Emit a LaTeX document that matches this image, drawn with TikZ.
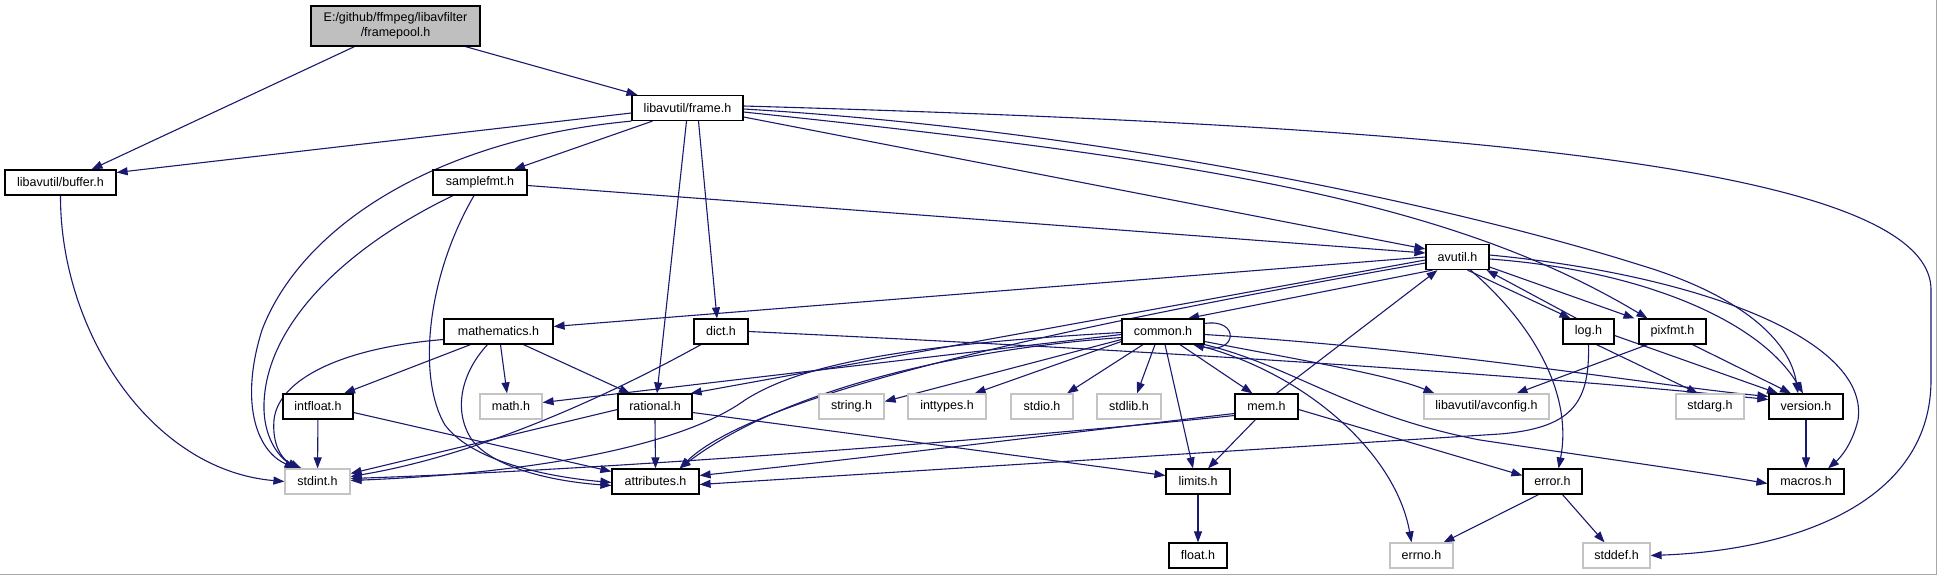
\documentclass[tikz,border=0pt]{standalone}
\usepackage{fontspec}
\setmainfont{Liberation Sans}
\usetikzlibrary{arrows.meta}
\definecolor{edgecol}{HTML}{191970}
\definecolor{rootfill}{HTML}{BFBFBF}
\definecolor{sysline}{HTML}{C4C4C4}
\definecolor{framecol}{HTML}{A8A8A8}
\pgfdeclarelayer{bg}
\pgfsetlayers{bg,main}
\begin{document}
\begin{tikzpicture}[x=1pt,y=-1pt,
  box/.style={draw=black, fill=white, line width=1.2pt, minimum height=25pt, inner sep=0pt, font=\fontsize{12.5}{15}\selectfont},
  sys/.style={box, draw=sysline},
  root/.style={box, fill=rootfill, align=center, minimum height=40pt},
  edg/.style={draw=edgecol, line width=1.1pt, -{Triangle[length=11pt,width=8pt]}}]
\useasboundingbox (0,0) rectangle (1937,575);

% nodes
\node[root, minimum width=169pt] (framepool) at (395.5,26) {E:/github/ffmpeg/libavfilter\\/framepool.h};
\node[box, minimum width=111pt] (frame) at (687.5,108) {libavutil/frame.h};
\node[box, minimum width=111pt] (buffer) at (60.5,182.5) {libavutil/buffer.h};
\node[box, minimum width=94pt] (samplefmt) at (480,182.5) {samplefmt.h};
\node[box, minimum width=63pt] (avutil) at (1457.5,257) {avutil.h};
\node[box, minimum width=109pt] (mathematics) at (498.5,331.5) {mathematics.h};
\node[box, minimum width=54pt] (dict) at (721,331.5) {dict.h};
\node[box, minimum width=82pt] (common) at (1163,331.5) {common.h};
\node[box, minimum width=51pt] (log) at (1588.5,331.5) {log.h};
\node[box, minimum width=67pt] (pixfmt) at (1672.5,331.5) {pixfmt.h};
\node[box, minimum width=70pt] (intfloat) at (318,406.5) {intfloat.h};
\node[sys, minimum width=62pt] (mathh) at (511,406.5) {math.h};
\node[box, minimum width=74pt] (rational) at (655,406.5) {rational.h};
\node[sys, minimum width=65pt] (stringh) at (851.5,406.5) {string.h};
\node[sys, minimum width=78pt] (inttypes) at (947,406.5) {inttypes.h};
\node[sys, minimum width=62pt] (stdio) at (1042,406.5) {stdio.h};
\node[sys, minimum width=64pt] (stdlib) at (1129,406.5) {stdlib.h};
\node[box, minimum width=63pt] (mem) at (1266.5,406.5) {mem.h};
\node[sys, minimum width=125pt] (avconfig) at (1486.5,406.5) {libavutil/avconfig.h};
\node[sys, minimum width=68pt] (stdarg) at (1710,406.5) {stdarg.h};
\node[box, minimum width=74pt] (version) at (1806,406.5) {version.h};
\node[sys, minimum width=65pt] (stdint) at (317.5,481.5) {stdint.h};
\node[box, minimum width=87pt] (attributes) at (655.5,481.5) {attributes.h};
\node[box, minimum width=64pt] (limits) at (1198,481.5) {limits.h};
\node[box, minimum width=59pt] (errorh) at (1552.5,481.5) {error.h};
\node[box, minimum width=76pt] (macros) at (1806,481.5) {macros.h};
\node[box, minimum width=58pt] (floath) at (1198,555.5) {float.h};
\node[sys, minimum width=63pt] (errno) at (1421.5,555.5) {errno.h};
\node[sys, minimum width=67pt] (stddef) at (1616.5,555.5) {stddef.h};

\begin{pgfonlayer}{bg}
\fill[white] (0,0) rectangle (1937,575);
\draw[framecol, line width=1.4pt] (0,574.3) -- (1936.3,574.3) -- (1936.3,0);

% framepool
\draw[edg] ([xshift=-41pt]framepool.south) -- ([xshift=31pt]buffer.north);
\draw[edg] ([xshift=70pt]framepool.south) -- ([xshift=-50pt]frame.north);
% frame
\draw[edg] ([yshift=-5pt]frame.west) -- ([yshift=10pt]buffer.east);
\draw[edg] (frame.south west) .. controls (430,140) and (300,230) .. (262,330) .. controls (240,400) and (255,450) .. ([xshift=-22pt]stdint.north);
\draw[edg] ([xshift=-35pt]frame.south) -- ([xshift=34pt]samplefmt.north);
\draw[edg] ([xshift=-1pt]frame.south) -- ([xshift=2pt]rational.north);
\draw[edg] ([xshift=11pt]frame.south) -- ([xshift=-4pt]dict.north);
\draw[edg] ([yshift=-9pt]frame.east) -- ([yshift=8pt]avutil.west);
\draw[edg] ([yshift=-4pt]frame.east) .. controls (1200,160) and (1450,200) .. ([xshift=-25pt]pixfmt.north);
\draw[edg] ([yshift=-1pt]frame.east) .. controls (1100,130) and (1450,205) .. (1640,265) .. controls (1740,295) and (1790,340) .. ([xshift=-8pt]version.north);
\draw[edg] ([yshift=2pt]frame.east) .. controls (1400,125) and (1931,160) .. (1931,290) -- (1931,380) .. controls (1931,500) and (1800,550) .. (stddef.east);
% buffer
\draw[edg] (buffer.south) .. controls (60,330) and (150,470) .. (stdint.west);
% samplefmt
\draw[edg] ([yshift=-3pt]samplefmt.east) -- ([yshift=4pt]avutil.west);
\draw[edg] ([xshift=-27pt]samplefmt.south) .. controls (340,250) and (262,330) .. (264,410) .. controls (265,440) and (280,458) .. ([xshift=-19pt]stdint.north);
\draw[edg] ([xshift=-6pt]samplefmt.south) .. controls (425,280) and (418,380) .. (445,425) .. controls (475,465) and (560,478) .. ([yshift=-1pt]attributes.west);
% mathematics
\draw[edg] ([yshift=-8pt]mathematics.west) .. controls (340,348) and (278,380) .. (274,420) .. controls (272,445) and (282,460) .. ([xshift=-16pt]stdint.north);
\draw[edg] ([xshift=-28pt]mathematics.south) -- ([xshift=26pt]intfloat.north);
\draw[edg] ([xshift=-11pt]mathematics.south) .. controls (462,372) and (452,410) .. (472,440) .. controls (495,470) and (560,482) .. ([yshift=-4pt]attributes.west);
\draw[edg] ([xshift=2pt]mathematics.south) -- ([xshift=-4pt]mathh.north);
\draw[edg] ([xshift=25pt]mathematics.south) -- ([xshift=-25pt]rational.north);
% dict
\draw[edg] ([xshift=-20pt]dict.south) .. controls (610,395) and (480,455) .. ([yshift=5pt]stdint.east);
\draw[edg] (dict.east) .. controls (1100,348) and (1500,372) .. ([yshift=7pt]version.west);
% avutil
\draw[edg] (avutil.west) -- ([yshift=5pt]mathematics.east);
\draw[edg] ([yshift=-3pt]avutil.west) -- ([xshift=-2pt]rational.north east);
\draw[edg] ([yshift=-6pt]avutil.west) .. controls (1100,320) and (760,390) .. ([xshift=-20pt]attributes.north east);
\draw[edg] ([xshift=-25pt]avutil.south) -- ([xshift=25pt]common.north);
\draw[edg] ([xshift=10pt]avutil.south) -- ([xshift=-18pt]log.north);
\draw[edg] ([yshift=-10pt]avutil.east) -- ([xshift=-38pt]pixfmt.north);
\draw[edg] ([xshift=13pt]avutil.south) .. controls (1540,330) and (1572,400) .. ([xshift=6pt]errorh.north);
\draw[edg] ([yshift=-2pt]avutil.east) .. controls (1640,270) and (1760,320) .. ([xshift=-3pt]version.north);
\draw[edg] ([yshift=2pt]avutil.east) .. controls (1700,275) and (1870,340) .. (1858,420) .. controls (1852,445) and (1840,458) .. ([xshift=22pt]macros.north);
% log
\draw[edg] ([xshift=-12pt]log.north) -- ([xshift=-3pt]avutil.south east);
\draw[edg] ([yshift=-4pt]log.east) -- ([xshift=-28pt]version.north);
\draw[edg] ([xshift=8pt]log.south) -- ([xshift=-12pt]stdarg.north);
\draw[edg] (log.south) .. controls (1590,405) and (1570,428) .. (1500,434) -- ([yshift=-3pt]attributes.east);
% pixfmt
\draw[edg] ([xshift=-25pt]pixfmt.south) -- ([xshift=30pt]avconfig.north);
\draw[edg] ([xshift=20pt]pixfmt.south) -- ([xshift=-15pt]version.north);
% common
\draw[edg] ([yshift=8pt]common.east) .. controls (1240,318) and (1238,355) .. ([xshift=30pt]common.south);
\draw[edg] ([xshift=17pt]common.south) -- ([xshift=-14pt]mem.north);
\draw[edg] ([xshift=2pt]common.south) -- ([xshift=-5pt]limits.north);
\draw[edg] ([xshift=-8pt]common.south) -- ([xshift=8pt]stdlib.north);
\draw[edg] ([xshift=-20pt]common.south) -- ([xshift=25pt]stdio.north);
\draw[edg] ([yshift=-10pt]common.west) -- ([xshift=-12pt]inttypes.north east);
\draw[edg] ([yshift=-8pt]common.west) -- ([yshift=5pt]stringh.east);
\draw[edg] ([yshift=-3pt]common.west) -- ([yshift=4pt]mathh.east);
\draw[edg] ([yshift=-1pt]common.west) .. controls (900,345) and (800,365) .. (745,400) .. controls (690,440) and (560,472) .. ([yshift=1pt]stdint.east);
\draw[edg] ([yshift=-6pt]common.west) .. controls (950,350) and (780,392) .. ([xshift=-20pt]attributes.north east);
\draw[edg] ([yshift=-10pt]common.east) .. controls (1300,360) and (1390,375) .. ([xshift=-52pt]avconfig.north);
\draw[edg] ([yshift=-3pt]common.east) .. controls (1450,350) and (1650,385) .. ([yshift=10pt]version.west);
\draw[edg] (common.south east) .. controls (1290,365) and (1350,415) .. (1480,440) .. controls (1600,458) and (1700,472) .. ([yshift=-2pt]macros.west);
\draw[edg] ([xshift=32pt]common.south) .. controls (1300,370) and (1395,450) .. ([xshift=-10pt]errno.north);
% mem
\draw[edg] ([xshift=10pt]mem.north) -- ([xshift=-20pt]avutil.south);
\draw[edg] ([xshift=-11pt]mem.south) -- ([xshift=10pt]limits.north);
\draw[edg] ([yshift=-7pt]mem.west) .. controls (1050,435) and (850,460) .. ([yshift=6pt]attributes.east);
\draw[edg] ([yshift=-9pt]mem.west) .. controls (1000,440) and (600,470) .. ([yshift=3pt]stdint.east);
\draw[edg] ([yshift=-3pt]mem.east) -- ([yshift=6pt]errorh.west);
% rational
\draw[edg] ([yshift=-3pt]rational.west) -- ([yshift=8pt]stdint.east);
\draw[edg] (rational.south) -- (attributes.north);
\draw[edg] ([yshift=-6pt]rational.east) -- ([yshift=6pt]limits.west);
% intfloat
\draw[edg] (intfloat) -- (stdint);
\draw[edg] ([yshift=-6pt]intfloat.east) -- ([yshift=10pt]attributes.west);
% others
\draw[edg] (limits) -- (floath);
\draw[edg] ([xshift=-14pt]errorh.south) -- ([xshift=22pt]errno.north);
\draw[edg] ([xshift=10pt]errorh.south) -- ([xshift=-12pt]stddef.north);
\draw[edg] (version) -- (macros);
\end{pgfonlayer}
\end{tikzpicture}
\end{document}
